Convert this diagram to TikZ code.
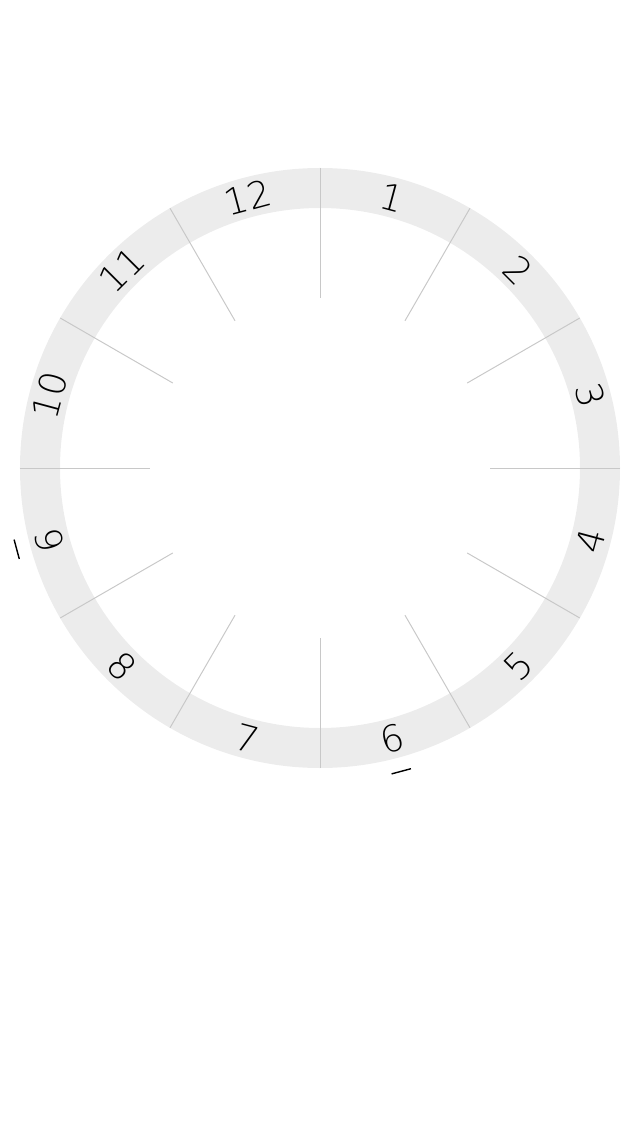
\documentclass[tikz,border=0pt]{standalone}
\usepackage{fontspec}
\newfontfamily\dialfont{DejaVu Sans ExtraLight}
\definecolor{ringgray}{HTML}{ECECEC}
\definecolor{spokegray}{HTML}{C8C8C8}
\begin{document}
\begin{tikzpicture}[
    dial/.style={inner sep=0pt, font=\dialfont\fontsize{26}{26}\selectfont},
    spoke/.style={spokegray, line width=0.7pt},
    underbar/.style={black, line width=1pt}]
    % 0. Khung ảnh (640 x 1136 px, 1 px = 0,025 cm)
    \useasboundingbox (-8,-16.7) rectangle (8,11.7);

    % Tâm O
    \coordinate (O) at (0,0);

    % 1. Vành tròn màu xám (R = 7.5, r = 6.5)
    \fill[ringgray, even odd rule] (O) circle (7.5) (O) circle (6.5);

    % 2. Các vạch chia giờ (mỗi 30 độ)
    \foreach \a in {90,60,...,-240} {
        \draw[spoke] (\a:4.25) -- (\a:7.5);
    }

    % 3. Các số ở nửa trên (đầu chữ hướng ra ngoài)
    \foreach \h in {10,11,12,1,2,3} {
        \node[dial, rotate=15-30*\h] (h\h) at ({105-30*\h}:7) {\h};
    }

    % 4. Các số ở nửa dưới (đầu chữ hướng vào tâm)
    \foreach \h in {4,...,9} {
        \node[dial, rotate=195-30*\h] (h\h) at ({105-30*\h}:7) {\h};
    }

    % 5. Gạch dưới số 6 và 9
    \foreach \h in {6,9} {
        \draw[underbar, shift={({105-30*\h}:7)}, rotate=195-30*\h]
            (-0.25,-0.85) -- (0.25,-0.85);
    }
\end{tikzpicture}
\end{document}
